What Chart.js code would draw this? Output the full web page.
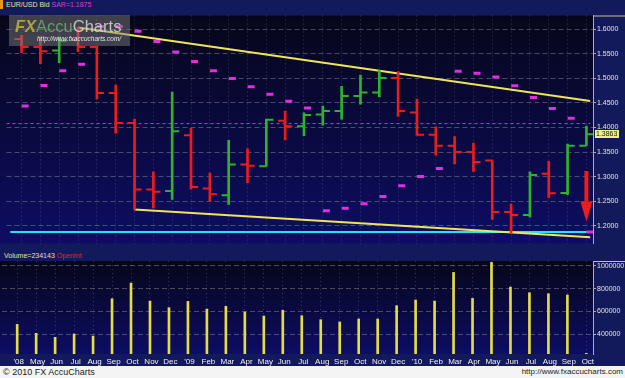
<!DOCTYPE html>
<html>
<head>
<meta charset="utf-8">
<script src="https://cdn.jsdelivr.net/npm/chart.js@4.4.1/dist/chart.umd.min.js"></script>
<style>
  body { margin: 0; width: 625px; height: 378px; overflow: hidden; background: #131a5c; position: relative;
         font-family: "Liberation Sans", Arial, sans-serif; }
  #hdr { position: absolute; left: 0; top: 0; width: 625px; height: 9px; font-size: 7px; line-height: 9px; }
  #hdr .mark { position: absolute; left: 0; top: 0; width: 3px; height: 9px; background: #f09420; }
  #hdr .txt { position: absolute; left: 6px; top: 0; color: #e8e0a6; white-space: nowrap; }
  #hdr .sar { color: #d63cd6; }
  #price { position: absolute; left: 0; top: 9px; }
  #volhdr { position: absolute; left: 4px; top: 251px; font-size: 7px; line-height: 9px; color: #e6e09a; white-space: nowrap; }
  #volhdr .oi { color: #e02030; }
  #vol { position: absolute; left: 0; top: 261px; }
  #foot { position: absolute; left: 0; top: 366px; width: 625px; height: 12px; background: #f4f4f4; color: #222; }
  #foot .l { position: absolute; left: 3px; top: 0; font-size: 9px; line-height: 12px; }
  #foot .r { position: absolute; right: 2px; top: 0; font-size: 8px; line-height: 12px; }
  #wm { position: absolute; left: 9px; top: 15px; width: 121px; height: 31px; background: rgba(128,128,128,0.48); }
  #wm .logo { position: absolute; left: 6px; top: 2px; font-size: 16.5px; line-height: 18px; white-space: nowrap; }
  #wm .fx { font-weight: bold; font-style: italic; color: rgba(190,180,60,0.85); }
  #wm .accu { color: rgba(110,180,110,0.8); }
  #wm .charts { color: rgba(215,215,215,0.85); }
  #wm .url { position: absolute; left: 28px; top: 20px; font-size: 6.5px; font-style: italic; color: #e8e8e8; white-space: nowrap; }
</style>
</head>
<body>
<div id="hdr"><div class="mark"></div><div class="txt">EUR/USD Bid <span class="sar">SAR=1.1875</span></div></div>
<canvas id="price" width="625" height="241"></canvas>
<div id="volhdr">Volume=234143 <span class="oi">OpenInt</span></div>
<canvas id="vol" width="625" height="105"></canvas>
<div id="wm"><div class="logo"><span class="fx">FX</span><span class="accu">Accu</span><span class="charts">Charts</span></div><div class="url">http://www.fxaccucharts.com/</div></div>
<div id="foot"><span class="l">© 2010 FX AccuCharts</span><span class="r">http://www.fxaccucharts.com</span></div>

<script>
// monthly EUR/USD, Apr 2008 .. Oct 2010
const months = ["'08","May","Jun","Jul","Aug","Sep","Oct","Nov","Dec","'09","Feb","Mar","Apr","May","Jun","Jul","Aug","Sep","Oct","Nov","Dec","'10","Feb","Mar","Apr","May","Jun","Jul","Aug","Sep","Oct"];
const open  = [1.5795,1.5635,1.5564,1.5776,1.5635,1.4700,1.4090,1.2737,1.2705,1.3840,1.2756,1.2620,1.3244,1.3212,1.4135,1.4026,1.4263,1.4333,1.4641,1.4712,1.5006,1.4301,1.3853,1.3628,1.3500,1.3327,1.2282,1.2218,1.3058,1.2667,1.3628];
const high  = [1.5872,1.5820,1.5840,1.6032,1.5647,1.4859,1.4167,1.3096,1.4718,1.3981,1.3071,1.3737,1.3564,1.4167,1.4333,1.4295,1.4436,1.4833,1.5064,1.5154,1.5135,1.4577,1.4013,1.3814,1.3679,1.3327,1.2442,1.3096,1.3308,1.3660,1.4026];
const low   = [1.5519,1.5295,1.5314,1.5538,1.4577,1.3885,1.2333,1.2365,1.2538,1.2744,1.2500,1.2436,1.2878,1.3212,1.3744,1.3833,1.4045,1.4167,1.4474,1.4622,1.4224,1.3840,1.3436,1.3256,1.3103,1.2128,1.1859,1.2173,1.2571,1.2635,1.3628];
const close = [1.5635,1.5550,1.5760,1.5635,1.4700,1.4090,1.2737,1.2690,1.3923,1.2790,1.2640,1.3244,1.3220,1.4154,1.4026,1.4250,1.4333,1.4641,1.4712,1.5006,1.4333,1.3853,1.3628,1.3500,1.3295,1.2282,1.2218,1.3032,1.2660,1.3628,1.3863];
const sar   = [1.4436,1.4853,1.5154,1.5282,1.6051,1.6051,1.5955,1.5744,1.5532,1.5340,1.5154,1.4994,1.4827,1.4673,1.4532,1.4397,1.2308,1.2359,1.2449,1.2596,1.2814,1.3000,1.3167,1.5141,1.5103,1.5026,1.4846,1.4609,1.4385,1.4186,1.1875];
const volume = [487000,409000,374000,403000,385000,711000,848000,691000,633000,688000,621000,645000,595000,560000,610000,563000,528000,508000,534000,534000,650000,700000,691000,941000,714000,1029000,813000,764000,755000,744000,234143];
const volTicks = [400000, 600000, 800000, 1000000];

// drawn lines (index, price)
const upperTrend = [{x: 3, y: 1.6032}, {x: 30.2, y: 1.4538}];
const lowerTrend = [{x: 6, y: 1.2333}, {x: 30.2, y: 1.1769}];
const sarLevel = 1.1875;
const dashLevel = 1.4077;
const arrow = {x: 30, from: 1.3115, to: 1.2088};

const X_MIN = -0.8, X_MAX = 30.35;
const TICK = 0.19;
const UP = '#2cb42c', DOWN = '#ec1c1c';
const barColors = close.map((c, i) => c >= open[i] ? UP : DOWN);
const lastPrice = close[close.length - 1];

const panelBg = {
  id: 'panelBg',
  beforeDraw(chart) {
    const {ctx, chartArea: a} = chart;
    const g = ctx.createLinearGradient(0, a.top, 0, a.bottom);
    g.addColorStop(0, '#06061a');
    g.addColorStop(1, '#0d0d64');
    ctx.save();
    ctx.fillStyle = g;
    ctx.fillRect(0, a.top, a.right, a.height);
    // cap line over the axis column
    ctx.strokeStyle = '#c8c088';
    ctx.lineWidth = 1;
    ctx.beginPath();
    ctx.moveTo(a.right, a.top + 0.5);
    ctx.lineTo(chart.width, a.top + 0.5);
    ctx.stroke();
    ctx.restore();
  }
};

const priceExtras = {
  id: 'priceExtras',
  afterDatasetsDraw(chart) {
    const {ctx, scales: {x, y}} = chart;
    const ax = x.getPixelForValue(arrow.x);
    const y0 = y.getPixelForValue(arrow.from);
    const y1 = y.getPixelForValue(arrow.to);
    const head = 20;
    ctx.save();
    ctx.fillStyle = '#f21a1a';
    ctx.fillRect(ax - 2, y0, 4, y1 - head - y0);
    ctx.beginPath();
    ctx.moveTo(ax - 6, y1 - head);
    ctx.lineTo(ax + 6, y1 - head);
    ctx.lineTo(ax, y1);
    ctx.closePath();
    ctx.fill();
    ctx.restore();
  },
  afterDraw(chart) {
    const {ctx, chartArea: a, scales: {y}} = chart;
    const py = Math.round(y.getPixelForValue(lastPrice));
    ctx.save();
    ctx.fillStyle = '#eef08c';
    ctx.fillRect(a.right + 2, py - 4, 24, 8);
    ctx.fillStyle = '#1c1c00';
    ctx.font = '7px "Liberation Sans", Arial';
    ctx.textBaseline = 'middle';
    ctx.fillText(lastPrice.toFixed(4), a.right + 3, py + 0.5);
    ctx.restore();
  }
};

const axisFont = {size: 7, family: '"Liberation Sans", Arial'};

function xScale(showLabels) {
  return {
    type: 'linear', min: X_MIN, max: X_MAX, offset: false,
    ticks: {
      display: showLabels, stepSize: 1, includeBounds: false, autoSkip: false, maxRotation: 0,
      padding: 3, labelOffset: 1.5, color: '#f2f2f2', font: {size: 8, family: '"Liberation Sans", Arial'},
      callback: v => months[v] ?? ''
    },
    grid: {color: 'rgba(130,130,150,0.4)', drawTicks: false, offset: false},
    border: {display: false, dash: [1, 3]},
    afterFit: s => { s.height = showLabels ? 12 : 0; s.paddingLeft = 0; s.paddingRight = 0; }
  };
}

function yAxis(extra) {
  return Object.assign({
    position: 'right', beginAtZero: false,
    grid: {color: 'rgba(140,140,150,0.5)', tickLength: 3, tickColor: '#b8b080'},
    border: {display: true, color: '#b8b080', width: 1, dash: [5, 3]},
    afterFit: s => { s.width = 32; s.paddingTop = 0; s.paddingBottom = 0; }
  }, extra);
}

const common = {
  responsive: false, animation: false, events: [],
  layout: {padding: {left: 2, right: 0, top: 0, bottom: 0}},
  plugins: {legend: {display: false}, tooltip: {enabled: false}}
};

new Chart(document.getElementById('price'), {
  type: 'scatter',
  data: {
    datasets: [
      {type: 'scatter', order: 1, data: open.map((v, i) => ({x: i - TICK, y: v})),
       pointStyle: 'line', pointRadius: 3.5, pointHoverRadius: 3.5, pointBorderWidth: 2, pointBorderColor: barColors},
      {type: 'scatter', order: 1, data: close.map((v, i) => ({x: i + TICK, y: v})),
       pointStyle: 'line', pointRadius: 3.5, pointHoverRadius: 3.5, pointBorderWidth: 2, pointBorderColor: barColors},
      {type: 'bar', order: 2, data: high.map((v, i) => ({x: i, y: [low[i], v]})),
       backgroundColor: barColors, barThickness: 2, borderWidth: 0},
      {type: 'scatter', order: 3, data: sar.map((v, i) => ({x: i + TICK, y: v})),
       pointStyle: 'line', pointRadius: 3.5, pointHoverRadius: 3.5, pointBorderWidth: 3, pointBorderColor: '#e02ee0'},
      {type: 'line', order: 4, data: upperTrend, borderColor: '#eee45a', borderWidth: 2, pointRadius: 0},
      {type: 'line', order: 4, data: lowerTrend, borderColor: '#eee45a', borderWidth: 2, pointRadius: 0},
      {type: 'line', order: 5, data: [{x: -0.6, y: sarLevel}, {x: 30.2, y: sarLevel}], borderColor: '#26e2f2', borderWidth: 2, pointRadius: 0},
      {type: 'line', order: 6, data: [{x: X_MIN, y: dashLevel}, {x: 30.2, y: dashLevel}], borderColor: '#d038d0', borderWidth: 1, borderDash: [3, 3], pointRadius: 0}
    ]
  },
  options: Object.assign({}, common, {
    scales: {
      x: xScale(false),
      y: yAxis({min: 1.164, max: 1.6275,
        ticks: {includeBounds: false, stepSize: 0.05, color: '#e6e6d6', padding: 1, font: axisFont, callback: v => v.toFixed(4)}})
    }
  }),
  plugins: [panelBg, priceExtras]
});

new Chart(document.getElementById('vol'), {
  type: 'bar',
  data: {
    datasets: [
      {data: volume.map((v, i) => ({x: i, y: v})), backgroundColor: '#e4dc46', barThickness: 2, borderWidth: 0}
    ]
  },
  options: Object.assign({}, common, {
    scales: {
      x: xScale(true),
      y: yAxis({min: 228000, max: 1041000,
        afterBuildTicks: s => { s.ticks = volTicks.map(v => ({value: v})); },
        ticks: {color: '#e6e6d6', padding: 1, font: axisFont, callback: v => String(v)}})
    }
  }),
  plugins: [panelBg]
});
</script>
</body>
</html>
